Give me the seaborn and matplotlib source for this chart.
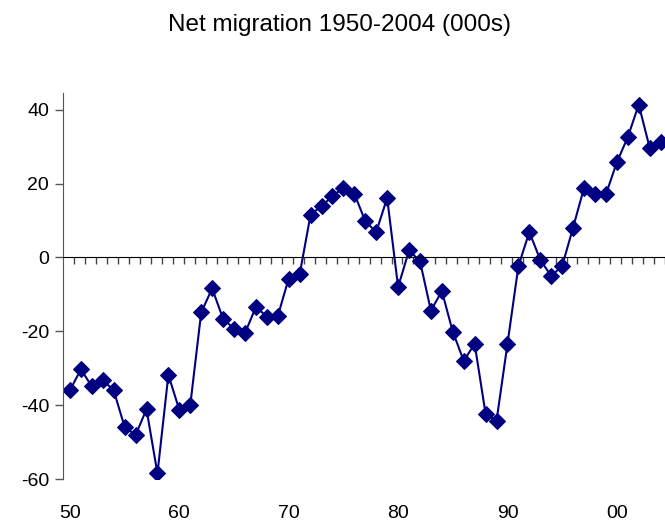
import matplotlib
matplotlib.use("Agg")
import matplotlib.pyplot as plt
import matplotlib.transforms as mtransforms
import numpy as np
import pandas as pd
import seaborn as sns

years = list(range(1950, 2005))
net_migration = [
    -36.0, -30.3, -34.9, -33.2, -36.0, -45.9, -48.1, -41.1, -58.5, -31.8,
    -41.3, -40.0, -14.9, -8.4, -16.6, -19.3, -20.5, -13.4, -16.0, -15.9,
    -5.7, -4.6, 11.6, 13.9, 16.6, 18.9, 17.3, 9.8, 6.9, 16.1,
    -8.0, 1.9, -1.0, -14.4, -9.1, -20.1, -28.0, -23.4, -42.4, -44.2,
    -23.4, -2.3, 6.9, -0.7, -5.0, -2.3, 8.1, 18.9, 17.2, 17.1,
    25.8, 32.6, 41.4, 29.7, 31.4,
]
label_years = [1950, 1960, 1970, 1980, 1990, 2000]
label_text = ["50", "60", "70", "80", "90", "00"]
y_ticks = [40, 20, 0, -20, -40, -60]

df = pd.DataFrame({"year": years, "net": net_migration})

sns.set_style("white")
plt.rcParams["font.family"] = ["Liberation Sans", "DejaVu Sans"]
plt.rcParams["text.color"] = "black"
plt.rcParams["ytick.labelcolor"] = "black"

fig = plt.figure(figsize=(6.65, 5.25), dpi=100)
ax = fig.add_axes([0.0947, 0.0876, 0.9053, 0.735])

sns.lineplot(
    data=df, x="year", y="net", ax=ax,
    color="#000080", linewidth=1.5,
    marker="D", markersize=8.5, markeredgecolor="#000080",
)

x_left = 1950 - 7 / 11
ax.set_xlim(x_left, x_left + 602 / 11)
ax.set_ylim(-60, 44.5)

# y axis
ax.set_yticks(y_ticks)
ax.set_yticklabels([str(v) for v in y_ticks], fontsize=14, color="black")
ax.tick_params(axis="y", direction="out", length=6, width=1, color="#555555",
               pad=4, left=True)
ax.spines["left"].set_color("#555555")
ax.spines["left"].set_bounds(-60, 44.5)

# x axis crosses at zero, ticks between years
ax.spines["bottom"].set_position(("data", 0))
ax.spines["bottom"].set_color("black")
ax.spines["top"].set_visible(False)
ax.spines["right"].set_visible(False)
ax.set_xticks(np.arange(1950.4, 2004.5, 1.0))
ax.set_xticklabels([])
ax.tick_params(axis="x", direction="out", length=5, width=1, color="#444444",
               bottom=True)

trans = mtransforms.blended_transform_factory(ax.transData, ax.transAxes)
for yr, txt in zip(label_years, label_text):
    ax.text(yr, -0.068, txt, transform=trans, ha="center", va="top",
            fontsize=14, color="black")

ax.set_xlabel("")
ax.set_ylabel("")
ax.grid(False)

fig.suptitle("Net migration 1950-2004 (000s)", fontsize=17.5, x=0.511, y=0.973,
             color="black")

fig.savefig("out.png", dpi=100)
